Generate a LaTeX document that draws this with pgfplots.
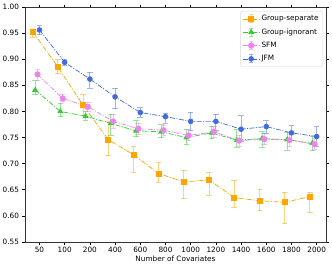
\documentclass[border=0pt]{standalone}
\usepackage{fontspec}
\setmainfont{DejaVu Sans}
\usepackage{pgfplots}
\usepackage{pgfplotstable}
\pgfplotsset{compat=1.18}
\definecolor{cOr}{HTML}{FFA500}
\definecolor{cGr}{HTML}{32CD32}
\definecolor{cPk}{HTML}{EE82EE}
\definecolor{cBl}{HTML}{4169E1}

\pgfplotstableread{
x y lo hi
0 0.953 0.942 0.958
1 0.885 0.872 0.900
2 0.812 0.792 0.833
3 0.746 0.715 0.780
4 0.717 0.684 0.733
5 0.681 0.664 0.702
6 0.665 0.633 0.688
7 0.669 0.640 0.684
8 0.635 0.617 0.668
9 0.629 0.610 0.651
10 0.626 0.585 0.645
11 0.637 0.606 0.645
}\sep
\pgfplotstableread{
x y lo hi
0 0.841 0.832 0.859
1 0.800 0.790 0.816
2 0.791 0.783 0.800
3 0.777 0.755 0.795
4 0.763 0.752 0.782
5 0.761 0.750 0.775
6 0.750 0.736 0.765
7 0.759 0.748 0.772
8 0.745 0.731 0.765
9 0.748 0.731 0.761
10 0.746 0.726 0.760
11 0.739 0.725 0.752
}\ign
\pgfplotstableread{
x y lo hi
0 0.871 0.859 0.880
1 0.825 0.819 0.833
2 0.809 0.800 0.817
3 0.781 0.768 0.795
4 0.767 0.757 0.777
5 0.764 0.754 0.774
6 0.754 0.744 0.765
7 0.761 0.750 0.772
8 0.744 0.733 0.755
9 0.747 0.736 0.758
10 0.745 0.733 0.756
11 0.737 0.728 0.748
}\sfm
\pgfplotstableread{
x y lo hi
0 0.956 0.947 0.964
1 0.894 0.889 0.900
2 0.862 0.845 0.875
3 0.828 0.805 0.844
4 0.798 0.789 0.807
5 0.790 0.777 0.797
6 0.781 0.764 0.798
7 0.781 0.763 0.795
8 0.766 0.742 0.792
9 0.771 0.758 0.782
10 0.759 0.745 0.773
11 0.752 0.734 0.771
}\jfm

\pgfplotsset{
  errleg/.style={legend image code/.code={
    \draw[##1, mark=none] (0pt,0pt) -- (16pt,0pt);
    \draw[##1, solid, mark=none, opacity=0.5, line width=0.8pt] (8pt,-4pt) -- (8pt,4pt) (6pt,-4pt) -- (10pt,-4pt) (6pt,4pt) -- (10pt,4pt);
    \draw[##1, only marks] plot coordinates {(8pt,0pt)};
  }},
  ser/.style={color=#1, line width=0.7pt, dash pattern=on 5pt off 1.5pt on 1pt off 1.5pt,
    mark options={solid, fill=#1, draw=#1},
    error bars/y dir=both, error bars/y explicit,
    error bars/error bar style={line width=0.8pt, opacity=0.5, solid},
    error bars/error mark options={rotate=90, mark size=2.8pt, line width=0.8pt, opacity=0.5, solid}},
}

\begin{document}
\begin{tikzpicture}[font=\fontsize{7.3}{8.5}\selectfont]
\useasboundingbox (0,0) rectangle (332pt,266pt);
\begin{axis}[
  at={(25pt,24pt)}, anchor=south west,
  scale only axis, width=301pt, height=235pt,
  xmin=-0.575, xmax=11.37, ymin=0.55, ymax=1.0,
  xtick={0,...,11},
  xticklabels={50,100,200,400,600,800,1000,1200,1400,1600,1800,2000},
  ytick={0.55,0.60,0.65,0.70,0.75,0.80,0.85,0.90,0.95,1.00},
  yticklabel style={/pgf/number format/.cd, fixed, fixed zerofill, precision=2},
  /pgf/number format/assume math mode=true,
  tick align=outside, major tick length=2.5pt,
  tick style={black, line width=0.6pt},
  axis line style={black!80, line width=0.6pt},
  xticklabel style={yshift=1pt},
  xlabel={Number of Covariates},
  xlabel style={yshift=3pt},
  legend style={at={(0.99,0.983)}, anchor=north east, draw=black!15, rounded corners=2pt,
    fill=white, font=\fontsize{7.3}{8.5}\selectfont, row sep=2.4pt, inner sep=2.2pt},
  legend cell align=left,
]
\addplot[ser=cOr, errleg, mark=square*, mark size=2.5pt]
  table[x expr=\thisrow{x}-0.27, y=y, y error plus expr=\thisrow{hi}-\thisrow{y}, y error minus expr=\thisrow{y}-\thisrow{lo}] {\sep};
\addlegendentry{Group-separate}
\addplot[ser=cGr, errleg, mark=triangle*, mark size=2.8pt]
  table[x expr=\thisrow{x}-0.17, y=y, y error plus expr=\thisrow{hi}-\thisrow{y}, y error minus expr=\thisrow{y}-\thisrow{lo}] {\ign};
\addlegendentry{Group-ignorant}
\addplot[ser=cPk, errleg, mark=*, mark size=2.7pt]
  table[x expr=\thisrow{x}-0.08, y=y, y error plus expr=\thisrow{hi}-\thisrow{y}, y error minus expr=\thisrow{y}-\thisrow{lo}] {\sfm};
\addlegendentry{SFM}
\addplot[ser=cBl, errleg, mark=*, mark size=2.4pt]
  table[x expr=\thisrow{x}, y=y, y error plus expr=\thisrow{hi}-\thisrow{y}, y error minus expr=\thisrow{y}-\thisrow{lo}] {\jfm};
\addlegendentry{JFM}
\end{axis}
\end{tikzpicture}
\end{document}
